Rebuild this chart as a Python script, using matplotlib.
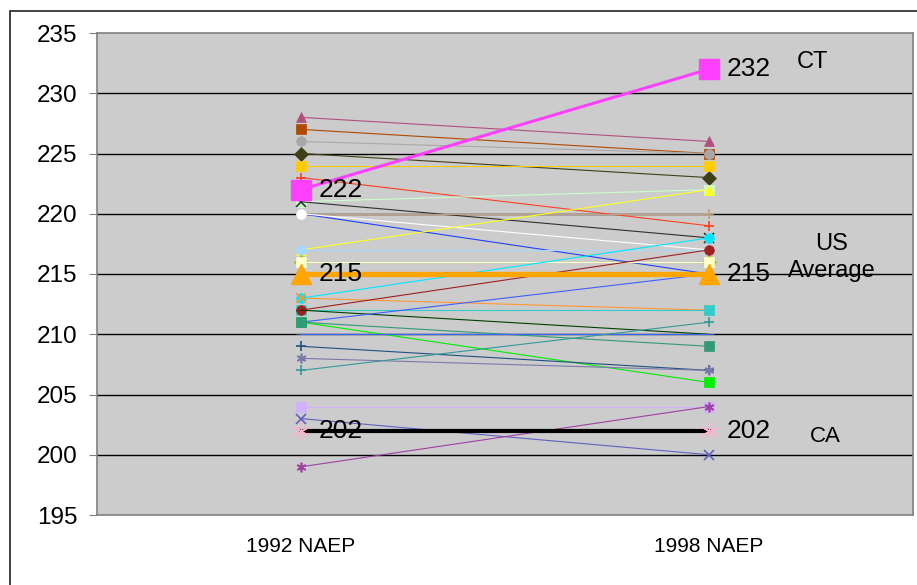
import matplotlib.pyplot as plt
from matplotlib.patches import Rectangle

plt.rcParams['font.family'] = ['Liberation Sans', 'DejaVu Sans']

# category labels
years = ["1992 NAEP", "1998 NAEP"]

# state scores (1992, 1998)
scores_1992 = [228, 227, 226, 225, 224, 223, 221, 221, 220, 220, 220, 217, 217, 216, 216,
               213, 213, 212, 212, 212, 211, 211, 211, 210, 209, 208, 207, 204, 203, 199]
scores_1998 = [226, 225, 225, 223, 224, 219, 222, 218, 220, 215, 217, 222, 217, 216, 216,
               218, 212, 212, 217, 210, 215, 206, 209, 210, 207, 207, 211, 204, 200, 204]

# highlighted series
us_avg = [215, 215]
ca = [202, 202]
ct = [222, 232]

yticks = [195, 200, 205, 210, 215, 220, 225, 230, 235]

star = (6, 2, 0)
styles = [
    ('#b05080', '^'), ('#b04a00', 's'), ('#a8a8a8', 'o'), ('#404018', 'D'),
    ('#ffcc00', 's'), ('#ff4020', '+'), ('#ccffcc', 's'), ('#303030', 'x'),
    ('#c0a080', '+'), ('#2040ff', '_'), ('#ffffff', 'o'), ('#ffff20', '^'),
    ('#a8d8ff', 'o'), ('#99cc00', 'D'), ('#ffffcc', 's'),
    ('#00e8ff', 'o'), ('#ff9933', 'x'), ('#33cccc', 's'), ('#a02020', 'o'),
    ('#004000', '_'), ('#4060ff', '_'), ('#00ee00', 's'), ('#339977', 's'),
    ('#3366ff', '_'), ('#205080', '+'), ('#7a7aaa', star), ('#339999', '+'),
    ('#d0b0ff', 's'), ('#6060c0', 'x'), ('#a040a0', star),
]

fig = plt.figure(figsize=(9.17, 5.85), dpi=100)
ax = fig.add_axes([97/917, 1-515/585, 816/917, 482/585])
ax.set_facecolor('#cccccc')

# outer chart frame
fig.patches.append(Rectangle((10/917, -0.05), 1.1, 1-11/585+0.05, transform=fig.transFigure,
                             fill=False, edgecolor='#333333', linewidth=1.3))

x = [0, 1]
for y in [200, 205, 210, 215, 220, 225, 230]:
    ax.axhline(y, color='black', linewidth=1.0, zorder=1)

for a, b, (c, m) in zip(scores_1992, scores_1998, styles):
    ax.plot(x, [a, b], color=c, linewidth=0.8, marker=m, markersize=7,
            markerfacecolor=c, markeredgecolor=c,
            markeredgewidth=1.2 if m in ('x', '+', star) else 0.5, zorder=2)

ax.plot(x, us_avg, color='#ffa500', linewidth=3.8, marker='^', markersize=14,
        markeredgecolor='#ffa500', zorder=4)
ax.plot(x, ca, color='black', linewidth=3.0, marker=star, markersize=14,
        markeredgecolor='#ffb0d0', markeredgewidth=1.0, zorder=4)
ax.plot(x, ct, color='#ff40ff', linewidth=2.2, marker='s', markersize=14,
        markeredgecolor='#ff40ff', zorder=5)

# data labels
for xi, yi in [(0, ct[0]), (1, ct[1]), (0, us_avg[0]), (1, us_avg[1]), (0, ca[0]), (1, ca[1])]:
    ax.annotate(str(yi), (xi, yi), textcoords='offset points', xytext=(13, 0),
                ha='left', va='center', fontsize=19, zorder=6)

ax.text(1.215, 232.6, "CT", fontsize=17, ha='left', va='center')
ax.text(1.30, 216.4, "US\nAverage", fontsize=17, ha='center', va='center', linespacing=1.3)
ax.text(1.284, 201.5, "CA", fontsize=16, ha='center', va='center')

ax.set_xlim(-0.5, 1.5)
ax.set_ylim(195, 235)
ax.set_yticks(yticks)
ax.set_xticks(x)
ax.set_xticklabels(years, fontsize=15)
ax.tick_params(axis='x', length=0, pad=16)
ax.tick_params(axis='y', labelsize=17.5, length=6, color='#808080', pad=8)
for s in ax.spines.values():
    s.set_color('#808080')
    s.set_linewidth(1.2)

fig.savefig("out.png", dpi=100)
